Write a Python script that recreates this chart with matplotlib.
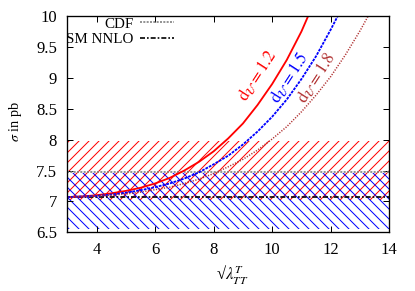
import numpy as np
import matplotlib
matplotlib.use("Agg")
import matplotlib.pyplot as plt

# < data >-------------------------------------------------------------------------------------

# sqrt(lambda) values, one list per curve
x_d12 = [3.0, 3.5, 4.0, 4.5, 5.0, 5.5, 6.0, 6.5, 7.0, 7.5, 8.0, 8.5, 9.0, 9.5, 10.0, 10.5, 11.0, 11.23]
y_d12 = [7.07, 7.08, 7.10, 7.13, 7.17, 7.22, 7.29, 7.38, 7.50, 7.64, 7.81, 8.02, 8.26, 8.56, 8.90,
         9.29, 9.75, 10.0]

x_d15 = [3.0, 3.5, 4.0, 4.5, 5.0, 5.5, 6.0, 6.5, 7.0, 7.5, 8.0, 8.5, 9.0, 9.5, 10.0, 10.5, 11.0,
         11.5, 12.0, 12.24]
y_d15 = [7.07, 7.08, 7.09, 7.11, 7.14, 7.18, 7.23, 7.29, 7.37, 7.47, 7.60, 7.74, 7.92, 8.13, 8.37,
         8.65, 8.98, 9.35, 9.78, 10.0]

x_d18 = [3.0, 3.5, 4.0, 4.5, 5.0, 5.5, 6.0, 6.5, 7.0, 7.5, 8.0, 8.5, 9.0, 9.5, 10.0, 10.5, 11.0,
         11.5, 12.0, 12.5, 13.0, 13.28]
y_d18 = [7.07, 7.08, 7.09, 7.10, 7.12, 7.15, 7.19, 7.23, 7.29, 7.36, 7.45, 7.56, 7.68, 7.83, 8.01,
         8.21, 8.45, 8.72, 9.02, 9.37, 9.76, 10.0]

labels_du = ["1.2", "1.5", "1.8"]

# horizontal reference values (pb)
cdf_value = 7.48
sm_nnlo_value = 7.066

# hatched bands (pb)
band_red = (7.03, 7.98)
band_blue = (6.56, 7.46)

x_range = [3, 14]
y_range = [6.5, 10]
x_ticks = [4, 6, 8, 10, 12, 14]
y_ticks = [6.5, 7, 7.5, 8, 8.5, 9, 9.5, 10]
y_ticklabels = ["6.5", "7", "7.5", "8", "8.5", "9", "9.5", "10"]

# < style >------------------------------------------------------------------------------------

plt.rcParams["font.family"] = ["Liberation Serif", "DejaVu Serif"]
plt.rcParams["mathtext.fontset"] = "stix"
plt.rcParams["font.size"] = 9
plt.rcParams["hatch.linewidth"] = 0.6

DPI = 120

# ---------------------------------------------------------------------------------------------
def main():
    fig = plt.figure(figsize=(415 / DPI, 291 / DPI), dpi=DPI)
    ax = fig.add_axes([0.162, 0.2017, 0.776, 0.7433])

    # bands
    ax.fill_between(x_range, band_red[0], band_red[1], facecolor="none",
                    edgecolor="red", hatch="////", linewidth=0)
    ax.fill_between(x_range, band_blue[0], band_blue[1], facecolor="none",
                    edgecolor="blue", hatch="\\\\\\\\", linewidth=0)

    # reference lines
    ax.axhline(cdf_value, color="#808080", lw=1.0, ls=(0, (1.2, 0.8)), label="CDF")
    ax.axhline(sm_nnlo_value, color="black", lw=1.0, ls=(0, (3, 1.2, 1, 1.2)), label="SM NNLO")

    # curves
    ax.plot(x_d12, y_d12, color="red", lw=1.1, ls="-")
    ax.plot(x_d15, y_d15, color="blue", lw=1.1, ls=(0, (1.5, 0.6)))
    ax.plot(x_d18, y_d18, color="#b03030", lw=0.9, ls=(0, (0.8, 1.0)))

    # curve labels
    colors = ["red", "blue", "#b03030"]
    spots = [(9.51, 9.03), (10.57, 9.0), (11.5, 9.0)]
    for lab, col, (tx, ty) in zip(labels_du, colors, spots):
        ax.text(tx, ty, r"$\mathrm{d}_{\mathcal{U}} = %s$" % lab, color=col,
                rotation=57, ha="center", va="center", fontsize=10)

    ax.set_xlim(x_range)
    ax.set_ylim(y_range)
    ax.set_xticks(x_ticks)
    ax.set_yticks(y_ticks)
    ax.set_yticklabels(y_ticklabels)
    ax.tick_params(direction="in", top=True, right=True, length=3.5, width=0.6,
                   labelsize=10, pad=6)
    for sp in ax.spines.values():
        sp.set_linewidth(0.8)

    ax.set_ylabel(r"$\sigma$ in pb", fontsize=8.5)
    ax.yaxis.set_label_coords(-0.135, 0.51)
    ax.set_xlabel(u"\u221a" + r"$\lambda_{TT}^{T}$", fontsize=10)
    ax.xaxis.set_label_coords(0.511, -0.142)

    ax.legend(loc="upper left", bbox_to_anchor=(-0.01, 1.005), frameon=False,
              markerfirst=False, handlelength=2.3, handletextpad=0.4,
              labelspacing=0.15, fontsize=9, borderaxespad=0.0, borderpad=0.15)

    fig.savefig("out.png", dpi=DPI)


if __name__ == "__main__":
    main()
